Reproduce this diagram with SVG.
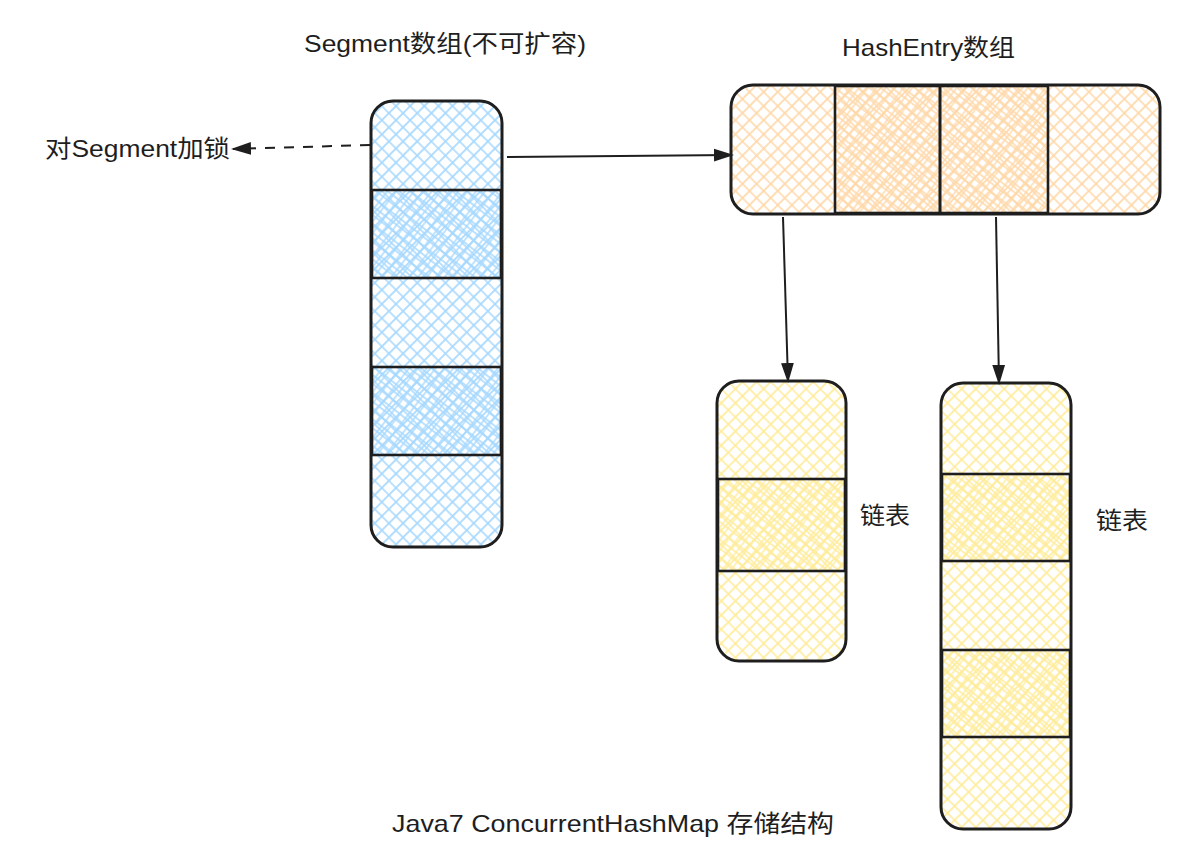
<svg xmlns="http://www.w3.org/2000/svg" width="1184" height="860" viewBox="0 0 1184 860">
<style>
.lbl{font-family:"Liberation Sans","Noto Sans CJK SC",sans-serif;font-size:24px;fill:#1e1e1e}
.box{stroke:#1e1e1e;stroke-width:3;fill:none}
.cell{stroke:#1e1e1e;stroke-width:2.6}
.conn{stroke:#1e1e1e;stroke-width:2;fill:none}
</style>
<defs>
<pattern id="hb" patternUnits="userSpaceOnUse" width="10" height="10" patternTransform="rotate(45)"><path d="M0 5H10M5 0V10" stroke="#a5d8ff" stroke-width="1.7"/></pattern>
<pattern id="hb2" patternUnits="userSpaceOnUse" width="7" height="7" patternTransform="rotate(38)"><path d="M0 3H7M3 0V7" stroke="#a5d8ff" stroke-width="1.4"/></pattern>
<pattern id="ho" patternUnits="userSpaceOnUse" width="10" height="10" patternTransform="rotate(45)"><path d="M0 5H10M5 0V10" stroke="#ffd8a8" stroke-width="1.7"/></pattern>
<pattern id="ho2" patternUnits="userSpaceOnUse" width="7" height="7" patternTransform="rotate(38)"><path d="M0 3H7M3 0V7" stroke="#ffd8a8" stroke-width="1.4"/></pattern>
<pattern id="hy" patternUnits="userSpaceOnUse" width="10" height="10" patternTransform="rotate(45)"><path d="M0 5H10M5 0V10" stroke="#ffec99" stroke-width="1.7"/></pattern>
<pattern id="hy2" patternUnits="userSpaceOnUse" width="7" height="7" patternTransform="rotate(38)"><path d="M0 3H7M3 0V7" stroke="#ffec99" stroke-width="1.4"/></pattern>
<marker id="ah2" viewBox="0 0 10 10" refX="9" refY="5" markerWidth="20" markerHeight="20" orient="auto" markerUnits="userSpaceOnUse"><path d="M0 1.8L10 5L0 8.2Z" fill="#1e1e1e"/></marker>
</defs>

<g id="title-segment"><text class="lbl" x="304" y="52" textLength="282" lengthAdjust="spacingAndGlyphs">Segment数组(不可扩容)</text></g>
<g id="title-hashentry"><text class="lbl" x="842" y="56" textLength="173" lengthAdjust="spacingAndGlyphs">HashEntry数组</text></g>
<g id="label-lock"><text class="lbl" x="45" y="157" textLength="185" lengthAdjust="spacingAndGlyphs">对Segment加锁</text></g>
<g id="caption"><text class="lbl" x="392" y="832" textLength="442" lengthAdjust="spacingAndGlyphs">Java7 ConcurrentHashMap 存储结构</text></g>

<g id="segment-array">
<rect x="371" y="101" width="131" height="446" rx="22" fill="url(#hb)"/>
<rect x="372" y="190" width="129" height="88" fill="url(#hb2)"/>
<rect x="372" y="367" width="129" height="88" fill="url(#hb2)"/>
<rect class="box" x="371" y="101" width="131" height="446" rx="22"/>
<rect class="cell" x="372" y="190" width="129" height="88" fill="none"/>
<rect class="cell" x="372" y="367" width="129" height="88" fill="none"/>
</g>

<g id="hashentry-array">
<rect x="731" y="85" width="429" height="129" rx="22" fill="url(#ho)"/>
<rect x="835" y="85" width="105" height="129" fill="url(#ho2)"/>
<rect x="940" y="85" width="108" height="129" fill="url(#ho2)"/>
<rect class="box" x="731" y="85" width="429" height="129" rx="22"/>
<rect class="cell" x="835" y="86" width="105" height="127" fill="none"/>
<rect class="cell" x="940" y="86" width="108" height="127" fill="none"/>
</g>

<g id="list-1">
<rect x="717" y="381" width="129" height="280" rx="22" fill="url(#hy)"/>
<rect x="718" y="479" width="127" height="92" fill="url(#hy2)"/>
<rect class="box" x="717" y="381" width="129" height="280" rx="22"/>
<rect class="cell" x="718" y="479" width="127" height="92" fill="none"/>
<text class="lbl" x="860" y="524" textLength="50" lengthAdjust="spacingAndGlyphs">链表</text>
</g>

<g id="list-2">
<rect x="941" y="383" width="130" height="446" rx="22" fill="url(#hy)"/>
<rect x="942" y="474" width="128" height="87" fill="url(#hy2)"/>
<rect x="942" y="650" width="128" height="87" fill="url(#hy2)"/>
<rect class="box" x="941" y="383" width="130" height="446" rx="22"/>
<rect class="cell" x="942" y="474" width="128" height="87" fill="none"/>
<rect class="cell" x="942" y="650" width="128" height="87" fill="none"/>
<text class="lbl" x="1096" y="529" textLength="52" lengthAdjust="spacingAndGlyphs">链表</text>
</g>

<g id="connectors">
<path class="conn" d="M507 157L732 155" marker-end="url(#ah2)"/>
<path class="conn" d="M370 145L233 149" stroke-dasharray="10 9" stroke-width="2.4" marker-end="url(#ah2)"/>
<path class="conn" d="M783 217L788 381" marker-end="url(#ah2)"/>
<path class="conn" d="M996 217L999 383" marker-end="url(#ah2)"/>
</g>
</svg>
